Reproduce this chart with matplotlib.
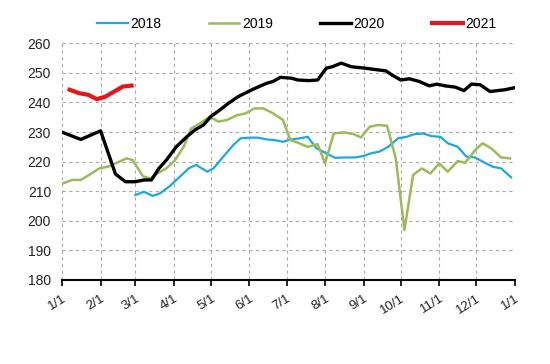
import matplotlib
matplotlib.use("Agg")
import matplotlib.pyplot as plt

plt.rcParams['font.family'] = ['Liberation Sans', 'DejaVu Sans']

# day of year (0 = Jan 1) and values
days_2018 = [59, 66, 73, 79, 87, 95, 102, 108, 117, 122, 130, 138, 144, 151, 158, 165, 171,
             178, 185, 192, 198, 205, 212, 220, 228, 236, 243, 249, 256, 263, 271, 278, 284,
             291, 298, 305, 311, 319, 326, 333, 339, 347, 354, 362]
vals_2018 = [208.7, 209.8, 208.4, 209.3, 211.8, 214.9, 217.7, 218.9, 216.6, 217.7, 221.7, 225.6,
             227.9, 228.1, 228.1, 227.5, 227.3, 226.7, 227.5, 227.9, 228.4, 224.5, 223.0, 221.3,
             221.4, 221.4, 221.9, 222.8, 223.4, 225.0, 227.9, 228.4, 229.3, 229.5, 228.6, 228.4,
             226.2, 225.0, 221.7, 221.4, 220.0, 218.3, 217.7, 214.7]

days_2019 = [1, 8, 15, 23, 30, 37, 44, 52, 57, 65, 71, 78, 84, 91, 98, 104, 111, 119, 126, 133,
             141, 148, 155, 162, 169, 178, 184, 190, 198, 206, 212, 219, 227, 235, 241, 248, 255,
             262, 269, 276, 283, 290, 297, 304, 311, 319, 325, 333, 339, 346, 354, 361]
vals_2019 = [212.7, 213.8, 213.8, 215.8, 217.7, 218.3, 219.6, 221.1, 220.5, 215.1, 214.3, 216.3,
             217.7, 220.5, 225.0, 231.2, 232.9, 235.2, 233.5, 234.1, 235.7, 236.3, 238.0, 238.0,
             236.6, 234.1, 227.3, 226.4, 225.0, 225.9, 219.4, 229.5, 229.9, 229.3, 228.2, 231.8,
             232.4, 232.1, 221.1, 196.9, 215.5, 217.7, 216.0, 219.4, 216.6, 220.2, 219.6, 223.9,
             226.2, 224.5, 221.4, 221.1]

days_2020 = [1, 15, 31, 43, 51, 59, 66, 72, 78, 84, 92, 100, 107, 114, 120, 127, 134, 142, 154,
             165, 170, 176, 185, 190, 199, 206, 213, 218, 225, 233, 244, 255, 261, 266, 273, 280,
             288, 296, 302, 309, 317, 324, 330, 337, 345, 357, 365]
vals_2020 = [229.8, 227.5, 230.4, 215.8, 213.2, 213.2, 213.8, 213.8, 217.7, 220.5, 225.0, 228.2,
             230.7, 232.4, 235.3, 237.4, 239.7, 242.0, 244.5, 246.5, 247.1, 248.5, 248.2, 247.6,
             247.4, 247.6, 251.6, 252.1, 253.3, 252.1, 251.6, 251.0, 250.7, 249.3, 247.6, 248.0,
             247.1, 245.6, 246.2, 245.6, 245.2, 244.0, 246.2, 246.0, 243.7, 244.3, 245.0]

days_2021 = [6, 14, 21, 28, 35, 42, 49, 56]
vals_2021 = [244.3, 243.1, 242.6, 241.1, 242.0, 243.7, 245.4, 245.7]

month_days = [0, 31, 59, 90, 120, 151, 181, 212, 243, 273, 304, 334, 365]
month_labels = ['1/1', '2/1', '3/1', '4/1', '5/1', '6/1', '7/1', '8/1', '9/1', '10/1', '11/1', '12/1', '1/1']

fig = plt.figure(figsize=(5.5, 3.64), dpi=100)
ax = fig.add_axes([0.113, 0.231, 0.823, 0.65])

ax.plot(days_2018, vals_2018, color='#1BA9DD', lw=1.6, label='2018')
ax.plot(days_2019, vals_2019, color='#9BBB59', lw=1.8, label='2019')
ax.plot(days_2020, vals_2020, color='black', lw=2.4, label='2020')
ax.plot(days_2021, vals_2021, color='#E8141B', lw=3.0, label='2021')

ax.set_xlim(0, 365)
ax.set_ylim(180, 260)
ax.set_xticks(month_days)
ax.set_xticklabels(month_labels, rotation=32, ha='right', rotation_mode='anchor', fontsize=9.5,
                   color='#222222')
ax.set_yticks(range(180, 261, 10))
ax.tick_params(axis='y', length=0, labelsize=10, pad=8, labelcolor='#222222')
ax.tick_params(axis='x', direction='out', length=4, width=1.2, pad=5)

ax.grid(True, color='#AAAAAA', linestyle=(0, (3, 3)), lw=0.8)
for s in ['left', 'right', 'top']:
    ax.spines[s].set_visible(False)
ax.spines['bottom'].set_linewidth(1.5)

fig.legend(loc='center', bbox_to_anchor=(0.54, 0.935), ncol=4, frameon=False,
           fontsize=10, handlelength=2.2, handletextpad=0.2, columnspacing=3.4)

fig.savefig('out.png', dpi=100)
